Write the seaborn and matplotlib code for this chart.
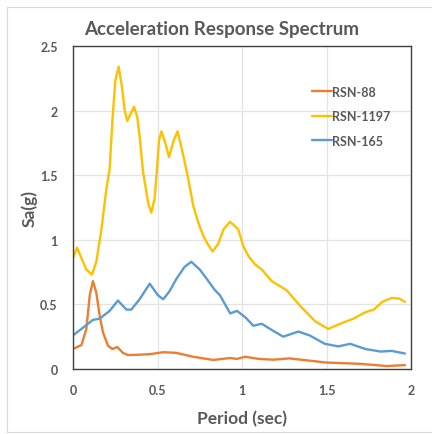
import matplotlib
matplotlib.use("Agg")
import matplotlib.pyplot as plt
from matplotlib.patches import Rectangle
import seaborn as sns
import pandas as pd

# Period (sec) and spectral acceleration Sa (g) for each record
period_88 = [0, 0.05, 0.079, 0.099, 0.118, 0.138, 0.158, 0.178, 0.207, 0.233, 0.262,
             0.296, 0.325, 0.38, 0.456, 0.534, 0.61, 0.71, 0.83, 0.93, 0.97, 1.018,
             1.1, 1.185, 1.28, 1.5, 1.7, 1.856, 1.964]
sa_88 = [0.155, 0.186, 0.31, 0.57, 0.68, 0.59, 0.41, 0.28, 0.18, 0.155, 0.17,
         0.124, 0.108, 0.11, 0.115, 0.13, 0.125, 0.095, 0.07, 0.085, 0.078, 0.095,
         0.078, 0.072, 0.082, 0.05, 0.04, 0.023, 0.03]

period_1197 = [0, 0.024, 0.049, 0.079, 0.112, 0.138, 0.168, 0.197, 0.217, 0.233, 0.25,
               0.27, 0.29, 0.306, 0.321, 0.339, 0.361, 0.38, 0.395, 0.414, 0.444,
               0.463, 0.483, 0.497, 0.509, 0.523, 0.548, 0.568, 0.596, 0.619, 0.653,
               0.682, 0.712, 0.742, 0.771, 0.80, 0.826, 0.86, 0.89, 0.929, 0.978,
               1.008, 1.04, 1.077, 1.117, 1.176, 1.264, 1.343, 1.432, 1.51, 1.58,
               1.66, 1.73, 1.78, 1.83, 1.886, 1.93, 1.964]
sa_1197 = [0.86, 0.94, 0.86, 0.77, 0.73, 0.83, 1.08, 1.39, 1.55, 1.92, 2.23,
           2.34, 2.18, 2.0, 1.92, 1.97, 2.03, 1.95, 1.79, 1.53, 1.29,
           1.21, 1.32, 1.55, 1.77, 1.84, 1.74, 1.64, 1.77, 1.84, 1.65,
           1.47, 1.26, 1.13, 1.03, 0.96, 0.91, 0.97, 1.08, 1.14, 1.08,
           0.95, 0.87, 0.81, 0.77, 0.68, 0.61, 0.49, 0.37, 0.31, 0.35,
           0.39, 0.44, 0.46, 0.52, 0.55, 0.545, 0.52]

period_165 = [0, 0.059, 0.118, 0.158, 0.217, 0.266, 0.316, 0.345, 0.394, 0.454, 0.503,
              0.534, 0.57, 0.613, 0.66, 0.70, 0.75, 0.79, 0.84, 0.87, 0.93, 0.97,
              1.02, 1.067, 1.117, 1.166, 1.244, 1.333, 1.40, 1.49, 1.57, 1.64,
              1.73, 1.82, 1.886, 1.964]
sa_165 = [0.26, 0.32, 0.38, 0.39, 0.45, 0.53, 0.46, 0.46, 0.54, 0.66, 0.57,
          0.54, 0.60, 0.70, 0.79, 0.83, 0.77, 0.70, 0.61, 0.57, 0.43, 0.45,
          0.40, 0.335, 0.35, 0.31, 0.25, 0.29, 0.26, 0.195, 0.175, 0.195,
          0.155, 0.135, 0.14, 0.12]

records = ["RSN-88", "RSN-1197", "RSN-165"]
colors = ["#ED7D31", "#FFC000", "#5B9BD5"]
x_ticks = [0, 0.5, 1, 1.5, 2]
x_tick_labels = ["0", "0.5", "1", "1.5", "2"]
y_ticks = [0, 0.5, 1, 1.5, 2, 2.5]
y_tick_labels = ["0", "0.5", "1", "1.5", "2", "2.5"]

frames = []
for name, xs, ys in zip(records,
                        [period_88, period_1197, period_165],
                        [sa_88, sa_1197, sa_165]):
    frames.append(pd.DataFrame({"Period": xs, "Sa": ys, "Record": name}))
df = pd.concat(frames, ignore_index=True)

sns.set_theme(style="white")
plt.rcParams["font.family"] = ["Lato", "DejaVu Sans"]
text_color = "#595959"

fig = plt.figure(figsize=(4.32, 4.35), dpi=100)
fig.patch.set_facecolor("white")
fig.patches.append(Rectangle((7 / 432, 2 / 435), 1.0, 1 - 10 / 435,
                             transform=fig.transFigure, fill=False,
                             edgecolor="#d9d9d9", linewidth=0.8))

ax = fig.add_axes([73 / 432, 1 - 370 / 435, 338 / 432, 323 / 435])

sns.lineplot(data=df, x="Period", y="Sa", hue="Record", hue_order=records,
             palette=colors, sort=False, estimator=None, linewidth=1.7, ax=ax)
for line in ax.get_lines():
    line.set_solid_joinstyle("round")
    line.set_solid_capstyle("round")

ax.set_xlim(0, 2)
ax.set_ylim(0, 2.5)
ax.set_xticks(x_ticks)
ax.set_xticklabels(x_tick_labels)
ax.set_yticks(y_ticks)
ax.set_yticklabels(y_tick_labels)
ax.grid(True, color="#e3e3e3", linewidth=0.9)
ax.set_axisbelow(True)
for side in ax.spines.values():
    side.set_visible(True)
    side.set_color("#404040")
    side.set_linewidth(1.0)

ax.tick_params(axis="both", length=0, labelsize=9, labelcolor=text_color)
ax.tick_params(axis="y", pad=11)
ax.tick_params(axis="x", pad=11)
for lbl in ax.get_xticklabels() + ax.get_yticklabels():
    lbl.set_fontweight("bold")

ax.set_xlabel("Period (sec)", fontsize=12.5, fontweight="bold", color=text_color,
              labelpad=10)
ax.set_ylabel("Sa(g)", fontsize=12.5, fontweight="bold", color=text_color,
              labelpad=2)

fig.text(222 / 432, 1 - 30 / 435, "Acceleration Response Spectrum",
         ha="center", va="center", fontsize=13.5, fontweight="bold",
         color=text_color)

leg = ax.legend(loc="upper left", bbox_to_anchor=(0.688, 0.897), frameon=False,
                handlelength=1.6, handletextpad=0.05, labelspacing=1.0,
                borderpad=0, prop={"size": 9, "weight": "bold"})
for t in leg.get_texts():
    t.set_color(text_color)

fig.savefig("out.png", dpi=100, facecolor="white")
